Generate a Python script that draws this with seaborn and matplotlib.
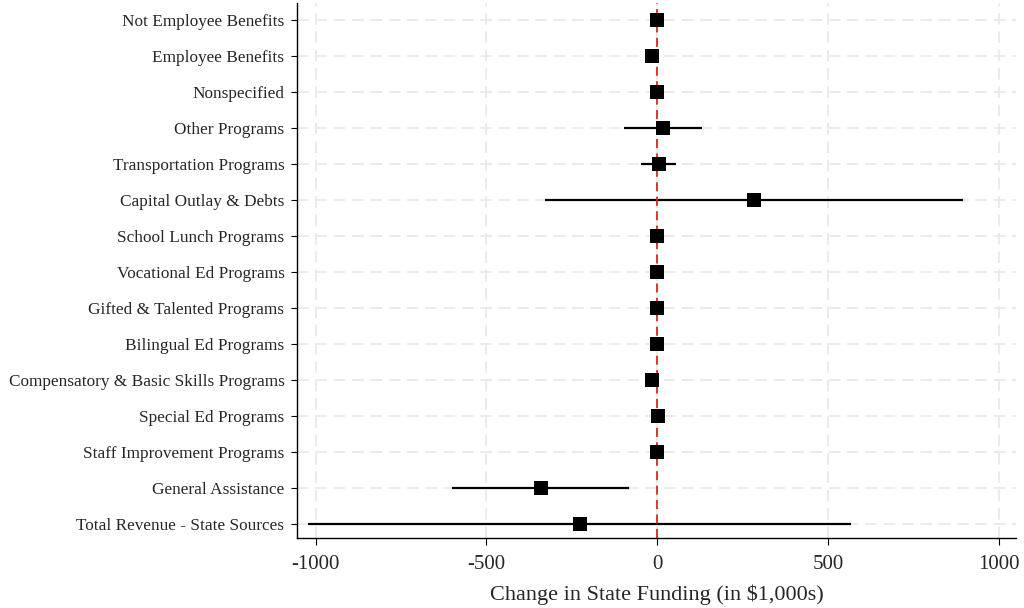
import pandas as pd
import matplotlib.pyplot as plt
import seaborn as sns

# Point estimates and 95% CI bounds (in $1,000s)
categories = [
    'Not Employee Benefits', 'Employee Benefits', 'Nonspecified', 'Other Programs',
    'Transportation Programs', 'Capital Outlay & Debts', 'School Lunch Programs',
    'Vocational Ed Programs', 'Gifted & Talented Programs', 'Bilingual Ed Programs',
    'Compensatory & Basic Skills Programs', 'Special Ed Programs',
    'Staff Improvement Programs', 'General Assistance', 'Total Revenue - State Sources',
]
estimates = [0, -15, -1, 18, 4, 284, 0, 0, 0, 0, -14, 3, -1, -341, -227]
ci_low = [-8, -24, -9, -96, -48, -330, -6, -8, -6, -8, -24, -8, -7, -600, -1022]
ci_high = [8, -6, 7, 131, 56, 896, 6, 8, 6, 8, -4, 14, 5, -82, 567]

df = pd.DataFrame({'category': categories, 'est': estimates, 'lo': ci_low, 'hi': ci_high})

sns.set_style('white')
plt.rcParams['font.family'] = ['Liberation Serif', 'DejaVu Serif']
plt.rcParams['axes.unicode_minus'] = False

fig, ax = plt.subplots(figsize=(10.24, 6.08), dpi=100)

# dashed light grid on both axes
ax.set_axisbelow(True)
ax.grid(True, color='#e8e8e8', linestyle=(0, (7, 4)), linewidth=1.2)

# confidence intervals
ax.hlines(y=range(len(df)), xmin=df['lo'], xmax=df['hi'], color='black', linewidth=1.6, zorder=2)

sns.scatterplot(data=df, x='est', y='category', marker='s', s=110, color='black',
                edgecolor='black', linewidth=0, ax=ax, zorder=3)

ax.axvline(0, color='#d62728', linestyle=(0, (5, 3)), linewidth=1.3, zorder=2.5)

ax.set_xlim(-1055, 1050)
ax.set_ylim(len(df) - 0.6, -0.47)
ax.set_xticks([-1000, -500, 0, 500, 1000])
ax.set_xlabel('Change in State Funding (in $1,000s)', fontsize=16, labelpad=8)
ax.set_ylabel('')

ax.tick_params(axis='x', labelsize=15, length=5, pad=7, color='black', direction='out', bottom=True)
ax.tick_params(axis='y', labelsize=12.4, length=4, pad=5, color='black', direction='out', left=True)

sns.despine(ax=ax)
for side in ['left', 'bottom']:
    ax.spines[side].set_color('black')
    ax.spines[side].set_linewidth(1.0)

plt.subplots_adjust(left=0.29, right=0.992, top=0.995, bottom=0.115)
plt.savefig('out.png', dpi=100)
